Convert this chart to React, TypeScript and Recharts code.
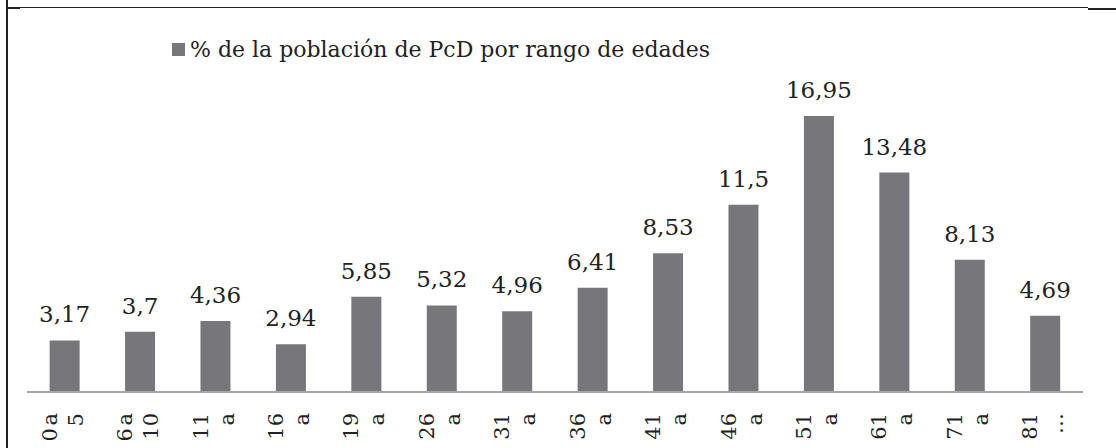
import React from 'react';
import { BarChart, Bar, XAxis, YAxis, LabelList } from 'recharts';

const CATEGORIES = [
  '0 a 5', '6 a 10', '11 a 15', '16 a 18', '19 a 25', '26 a 30', '31 a 35',
  '36 a 40', '41 a 45', '46 a 50', '51 a 60', '61 a 70', '71 a 80', '81 y más',
];
const VALUES = [3.17, 3.7, 4.36, 2.94, 5.85, 5.32, 4.96, 6.41, 8.53, 11.5, 16.95, 13.48, 8.13, 4.69];
// what is visible of each tick label (Excel clips after two lines)
const TICK_LINE1 = ['0 a', '6 a', '11', '16', '19', '26', '31', '36', '41', '46', '51', '61', '71', '81'];
const TICK_LINE2 = ['5', '10', 'a', 'a', 'a', 'a', 'a', 'a', 'a', 'a', 'a', 'a', 'a', '…'];
const SERIES_NAME = '% de la población de PcD por rango de edades';

const data = CATEGORIES.map((c, i) => ({ name: c, value: VALUES[i] }));

const FONT = '"DejaVu Serif", serif';
const BAR_COLOR = '#77777b';

const Tick = ({ x, y, index }: any) => (
  <g transform={`translate(${x},${y})`}>
    <text transform="rotate(-90)" x={-13} y={-8} textAnchor="end" fontFamily={FONT} fontSize={21} fill="#222" wordSpacing={-4}>
      {TICK_LINE1[index]}
    </text>
    <text transform="rotate(-90)" x={-13} y={18} textAnchor="end" fontFamily={FONT} fontSize={21} fill="#222">
      {TICK_LINE2[index]}
    </text>
  </g>
);

export default function App() {
  return (
    <div style={{ position: 'absolute', left: 0, top: 0, width: 1116, height: 448, background: '#fff' }}>
      <BarChart width={1116} height={448} data={data} margin={{ top: 99, right: 33, bottom: 0, left: 27 }} barCategoryGap="30%">
        <XAxis
          dataKey="name"
          axisLine={{ stroke: '#a6a6a6', strokeWidth: 2 }}
          tickLine={false}
          interval={0}
          tick={<Tick />}
          height={56}
        />
        <YAxis hide domain={[0, 18]} />
        <Bar dataKey="value" name={SERIES_NAME} fill={BAR_COLOR} isAnimationActive={false}>
          <LabelList
            dataKey="value"
            position="top"
            offset={18}
            formatter={(v: any) => String(v).replace('.', ',')}
            style={{ fontFamily: FONT, fontSize: 23, fill: '#222' }}
          />
        </Bar>
      </BarChart>
      <div style={{ position: 'absolute', left: 172, top: 37, display: 'flex', alignItems: 'center', fontFamily: FONT, fontSize: 22, color: '#222', whiteSpace: 'nowrap' }}>
        <span style={{ display: 'inline-block', width: 13, height: 13, background: BAR_COLOR, marginRight: 5 }} />
        {SERIES_NAME}
      </div>
      <div style={{ position: 'absolute', left: 6, top: 0, width: 2, height: 448, background: '#222' }} />
      <div style={{ position: 'absolute', left: 6, top: 7, width: 1082, height: 1, background: '#222' }} />
      <div style={{ position: 'absolute', left: 6, top: 7, width: 14, height: 2, background: '#222' }} />
      <div style={{ position: 'absolute', left: 1088, top: 8, width: 28, height: 2, background: '#222' }} />
    </div>
  );
}
